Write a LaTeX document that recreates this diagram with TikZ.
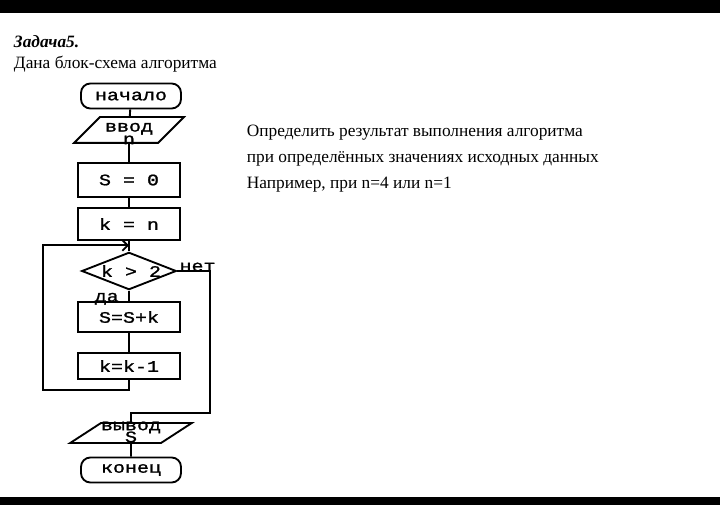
\documentclass[tikz,border=0pt]{standalone}
\usepackage{fontspec}
\setmainfont{Liberation Serif}
\newfontfamily\blockfont[FakeStretch=1.25,FakeBold=1.2]{Liberation Mono}
\usetikzlibrary{shapes.geometric,arrows.meta}

\begin{document}
\begin{tikzpicture}[
  x=0.75pt,y=-0.75pt,
  line width=1.4pt,
  >={Straight Barb[length=4pt,width=8pt]},
  blk/.style={draw,font=\blockfont\fontsize{12}{12}\selectfont,inner sep=0pt},
  termbox/.style={blk,rounded corners=7pt,minimum width=75pt,minimum height=18.75pt},
  procbox/.style={blk,minimum width=76pt,minimum height=#1},
  iobox/.style n args={3}{blk,trapezium,
    trapezium left angle=#1,trapezium right angle=#2,
    inner xsep=0pt,inner ysep=#3,minimum width=82.5pt},
  ifbox/.style={blk,diamond,aspect=2.6,minimum width=71pt,minimum height=28pt},
  lbl/.style={font=\blockfont\fontsize{12}{12}\selectfont,inner sep=1pt},
  txt/.style={inner sep=0pt,font=\fontsize{13}{19.5}\selectfont},
  ]
  \useasboundingbox (0,0) rectangle (720,505);
  \fill[white] (0,0) rectangle (720,505);
  \fill[black] (0,0) rectangle (720,13);
  \fill[black] (0,497) rectangle (720,505);

  \node[txt,anchor=base west,font=\bfseries\itshape\fontsize{13}{15}\selectfont] (title) at (13,48) {Задача5.};
  \node[txt,anchor=base west] (given) at (13,69) {Дана блок-схема алгоритма};
  \node[txt,anchor=north west,align=left] (task) at (246,124)
    {Определить результат выполнения алгоритма\\
     при определённых значениях исходных данных\\
     Например, при n=4 или n=1};

  \node[termbox] (start) at (131,96) {начало};
  \node[iobox={45}{135}{8pt}] (inp) at (129,130)
    {\smash{\raisebox{-6.5pt}{\begin{tabular}{@{}c@{}}ввод\\[-2.5pt]n\end{tabular}}}};
  \node[procbox=25.5pt] (s0) at (129,180) {S = 0};
  \node[procbox=24pt] (kn) at (129,224) {k = n};
  \node[ifbox] (cond) at (129,271) {\hspace{3pt}k > 2};
  \node[procbox=22pt] (ssk) at (129,317) {S=S+k};
  \node[procbox=20pt] (kk) at (129,366) {k=k-1};
  \node[iobox={33}{147}{7.5pt}] (out) at (131,433)
    {\smash{\raisebox{-3pt}{\begin{tabular}{@{}c@{}}вывод\\[-3pt]S\end{tabular}}}};
  \node[termbox] (stop) at (131,470) {конец};

  \node[lbl,anchor=south west] (no) at ([yshift=-2pt]cond.east) {нет};
  \node[lbl,anchor=north east] (yes) at ([xshift=-6pt]cond.south) {да};

  \coordinate (join) at ([yshift=4.5pt]cond.north);
  \coordinate (loopL) at (43,390);
  \coordinate (exitR) at (210,413);

  \draw (start) -- (inp);
  \draw (inp) -- (s0);
  \draw (s0) -- (kn);
  \draw (kn) -- (cond);
  \draw (cond) -- (ssk);
  \draw (ssk) -- (kk);
  \draw[->] (kk) |- (loopL) |- (join);
  \draw (cond) -| (exitR) -| (out);
  \draw (out) -- (stop);
\end{tikzpicture}
\end{document}
